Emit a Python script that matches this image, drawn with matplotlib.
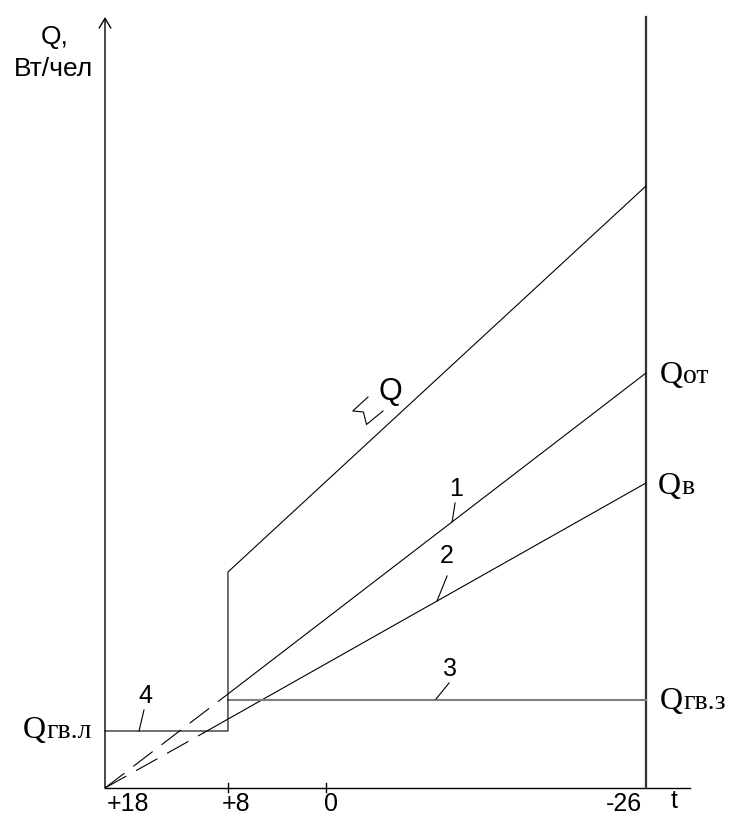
import matplotlib
matplotlib.use("Agg")
import matplotlib.pyplot as plt

# температура наружного воздуха, t
t_ticks = [18, 8, 0, -26]
t_tick_labels = ["+18", "+8", "0", "-26"]

# линия 1 - Qот (пунктир до +8)
q_ot_t_dash = [18, 8]
q_ot_dash = [0, 94]
q_ot_t = [8, -26]
q_ot = [94, 415]

# линия 2 - Qв (пунктир до +10)
q_v_t_dash = [18, 10]
q_v_dash = [0, 55]
q_v_t = [10, -26]
q_v = [55, 305]

# линия 3 - Qгв.з
q_gvz_t = [8, -26]
q_gvz = [88, 88]

# линия 4 - Qгв.л и суммарная Q
q_sum_t = [18, 8, 8, -26]
q_sum = [57, 57, 216, 602]

# значок разрыва у подписи Q
brk_t = [-3.39, -2.15, -3.02, -3.27, -4.61]
brk_q = [391, 377, 376, 363.5, 377]

sans = "Liberation Sans"
serif = "Liberation Serif"
lw = 0.8

fig = plt.figure(figsize=(7.41, 8.31), dpi=100)
ax = fig.add_axes([105 / 741, 43 / 831, 541 / 741, 771 / 831])
ax.set_xlim(18, -26)
ax.set_ylim(0, 771)
ax.axis("off")

# оси
ax.plot([18, -29.6], [0, 0], color="black", lw=1.0, clip_on=False)
ax.annotate("", xy=(18, 771), xytext=(18, 0),
            arrowprops=dict(arrowstyle="->,head_length=0.5,head_width=0.3",
                            lw=1.0, color="black", shrinkA=0, shrinkB=0,
                            mutation_scale=14))
ax.plot([-26, -26], [0, 771], color="#333333", lw=1.6, clip_on=False)
for tt in [8, 0]:
    ax.plot([tt, tt], [-4, 5], color="black", lw=1.0, clip_on=False)

# линии
ax.plot(q_ot_t_dash, q_ot_dash, color="black", lw=lw, dashes=(22, 10), clip_on=False)
ax.plot(q_ot_t, q_ot, color="black", lw=lw, clip_on=False)
ax.plot(q_v_t_dash, q_v_dash, color="black", lw=lw, dashes=(22, 10), clip_on=False)
ax.plot(q_v_t, q_v, color="black", lw=lw, clip_on=False)
ax.plot(q_gvz_t, q_gvz, color="#7f7f7f", lw=1.5, clip_on=False)
ax.plot(q_sum_t, q_sum, color="black", lw=lw, clip_on=False)
ax.plot(brk_t, brk_q, color="black", lw=lw)

# подписи оси t
tick_pos = [16.13, 7.35, -0.38, -24.2]
for tp, lab in zip(tick_pos, t_tick_labels):
    ax.text(tp, -16, lab, ha="center", va="center", fontsize=18, family=sans)
ax.text(-28.3, -13, "t", ha="center", va="center", fontsize=18, family=sans)

# подпись оси Q
ax.text(22.1, 751, "Q,", ha="center", va="center", fontsize=19, family=sans)
ax.text(22.2, 719, "Вт/чел", ha="center", va="center", fontsize=19, family=sans)

# номера линий с выносками
nums = ["1", "2", "3", "4"]
num_t = [-10.55, -9.82, -10.06, 14.75]
num_q = [299, 232, 119, 92]
lead_t = [(-10.47, -10.23), (-9.82, -9.0), (-9.98, -8.92), (14.83, 15.23)]
lead_q = [(285, 266), (212, 187), (105, 89), (78, 57)]
for n, x, y, lt, lq in zip(nums, num_t, num_q, lead_t, lead_q):
    ax.text(x, y, n, ha="center", va="center", fontsize=18, family=sans)
    ax.plot(lt, lq, color="black", lw=lw, clip_on=False)

ax.text(-5.18, 396, "Q", ha="center", va="center", fontsize=22, family=sans)

# подписи Q с индексами
q_labels = ["от", "в", "гв.з", "гв.л"]
q_lab_t = [-27.14, -26.98, -27.14, 24.67]
q_lab_q = [405, 294, 79, 50]
for sub, x, y in zip(q_labels, q_lab_t, q_lab_q):
    ax.text(x, y, "Q", ha="left", va="baseline", fontsize=23, family=serif,
            clip_on=False)
    ax.annotate(sub, xy=(x, y), xytext=(16.8, 0), textcoords="offset points",
                ha="left", va="baseline", fontsize=20, family=serif,
                annotation_clip=False)

fig.savefig("out.png", dpi=100)
